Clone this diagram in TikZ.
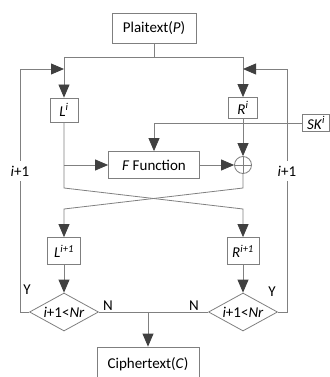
\documentclass[tikz,border=0pt]{standalone}
\usepackage{fontspec}
\setmainfont{Carlito}
\usetikzlibrary{arrows.meta,shapes.geometric}

\definecolor{linegray}{HTML}{808080}
\definecolor{boxgray}{HTML}{7F7F7F}
\definecolor{tipgray}{HTML}{404040}

\tikzset{
  blk/.style={draw=boxgray,line width=.8pt,inner sep=0pt,font=\fontsize{15}{18}\selectfont},
  cond/.style={blk,diamond,shape aspect=1.8,minimum width=69pt,minimum height=38pt},
  wire/.style={draw=linegray,line width=.8pt},
  flow/.style={wire,-{Triangle[length=13pt,width=11pt,color=tipgray]}},
  lbl/.style={font=\fontsize{15}{18}\selectfont,inner sep=1pt}
}

\begin{document}
\begin{tikzpicture}[x=1pt,y=-1pt]
  \useasboundingbox (0,0) rectangle (329,377);

  \node[blk,minimum width=84pt,minimum height=30pt] (plain) at (154,28) {Plaitext(\textit{P})};
  \node[blk,minimum width=28pt,minimum height=24pt] (li) at (64,110) {\textit{L}\textsuperscript{\textit{i}}};
  \node[blk,minimum width=29pt,minimum height=21pt] (ri) at (243,108) {\textit{R}\textsuperscript{\textit{i}}};
  \node[blk,minimum width=27pt,minimum height=17pt] (sk) at (316,123) {\textit{SK}\textsuperscript{\textit{i}}};
  \node[blk,minimum width=91pt,minimum height=27pt] (f) at (154,165) {\textit{F} Function};
  \node[circle,draw=boxgray,line width=.8pt,minimum size=17pt,inner sep=0pt] (xor) at (243,165) {};
  \node[blk,minimum width=33pt,minimum height=27pt] (lnext) at (64,251) {\textit{L}\textsuperscript{\textit{i+1}}};
  \node[blk,minimum width=32pt,minimum height=27pt] (rnext) at (243,251) {\textit{R}\textsuperscript{\textit{i+1}}};
  \node[cond] (condl) at (64,312) {\textit{i}+1<\textit{Nr}};
  \node[cond] (condr) at (243,312) {\textit{i}+1<\textit{Nr}};
  \node[blk,minimum width=102pt,minimum height=34pt] (cipher) at (148,364) {Ciphertext(\textit{C})};

  \coordinate (topl) at (64,57);
  \coordinate (topr) at (243,57);
  \coordinate (backl) at (20,69);
  \coordinate (backr) at (287,69);
  \coordinate (crossl) at (64,188);
  \coordinate (crossr) at (243,188);
  \coordinate (lowl) at (64,209);
  \coordinate (lowr) at (243,209);

  % split of the plaintext
  \draw[wire] (plain.south) -- (plain.south |- topl);
  \draw[wire] (topl) -- (topr);
  \draw[flow] (topl) -- (li.north);
  \draw[flow] (topr) -- (ri.north);

  % round
  \draw[flow] (sk.west) -| (f.north);
  \draw[flow] (li.south |- f.west) -- (f.west);
  \draw[flow] (f.east) -- (xor.west);
  \draw[flow] (ri.south) -- (xor.north);
  \draw[wire] (xor.north) -- (xor.south);
  \draw[wire] (xor.west) -- (xor.east);
  \draw[flow] (li.south) -- (crossl) -- (lowr) -- (rnext.north);
  \draw[flow] (xor.south) -- (crossr) -- (lowl) -- (lnext.north);
  \draw[flow] (lnext.south) -- (condl.north);
  \draw[flow] (rnext.south) -- (condr.north);

  % loops back
  \draw[flow] (condl.west) -- (condl.west -| backl) -- (backl) -- (backl -| li.north);
  \draw[flow] (condr.east) -- (condr.east -| backr) -- (backr) -- (backr -| ri.north);
  \node[lbl,fill=white,inner ysep=5pt] (incl) at (20,171) {\textit{i}+1};
  \node[lbl,fill=white,inner ysep=5pt] (incr) at (287,171) {\textit{i}+1};

  % exit
  \draw[wire] (condl.east) -- (condr.west);
  \draw[flow] (cipher.north |- condl.east) -- (cipher.north);

  \node[lbl] (yl) at (27,290) {Y};
  \node[lbl] (yr) at (272,292) {Y};
  \node[lbl] (nl) at (108,306) {N};
  \node[lbl] (nr) at (194,306) {N};
\end{tikzpicture}
\end{document}
